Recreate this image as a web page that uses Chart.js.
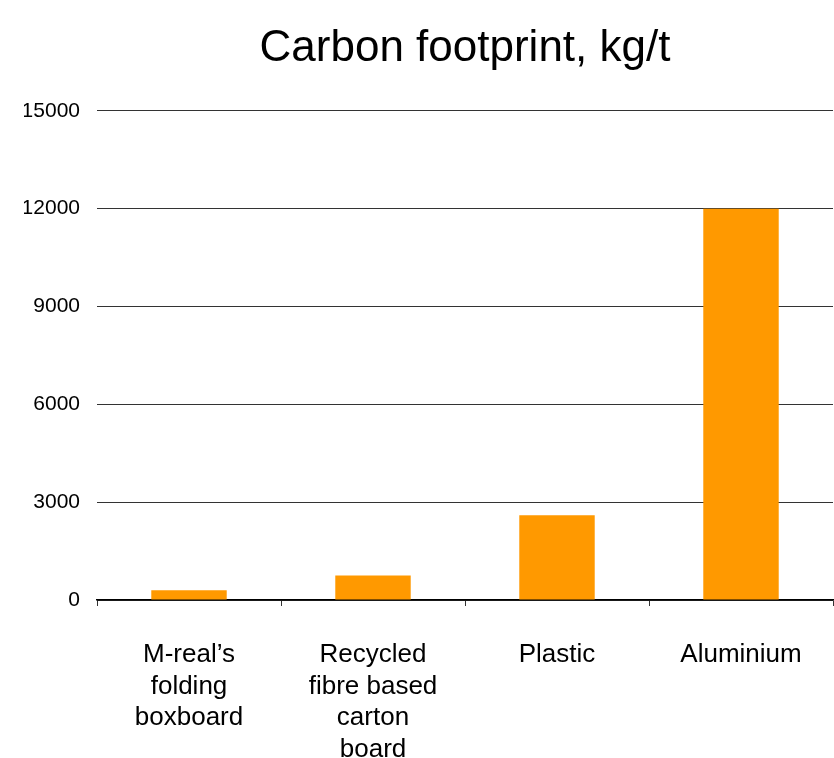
<!DOCTYPE html>
<html>
<head>
<meta charset="utf-8">
<script src="https://cdn.jsdelivr.net/npm/chart.js@4/dist/chart.umd.min.js"></script>
<style>
  html, body { margin: 0; padding: 0; background: #fff; }
  #wrap { width: 834px; height: 758px; }
</style>
</head>
<body>
<div id="wrap"><canvas id="chart"></canvas></div>
<script>
// Categories (multi-line labels) and values
const categories = [
    ["M-real\u2019s", "folding", "boxboard"],
    ["Recycled", "fibre based", "carton", "board"],
    "Plastic",
    "Aluminium"
];
const footprint = [300, 750, 2600, 12000];  // kg CO2 per tonne
const yMin = 0;
const yMax = 15000;
const yStep = 3000;

Chart.defaults.font.family = "'Liberation Sans', Arial, sans-serif";
Chart.defaults.color = '#000';

const ctx = document.getElementById('chart').getContext('2d');
new Chart(ctx, {
    type: 'bar',
    data: {
        labels: categories,
        datasets: [{
            label: 'Carbon footprint',
            data: footprint,
            backgroundColor: '#ff9900',
            borderWidth: 0,
            categoryPercentage: 1,
            barPercentage: 0.41
        }]
    },
    options: {
        responsive: true,
        maintainAspectRatio: false,
        animation: false,
        layout: { padding: { left: 24, right: 1, top: 0, bottom: 0 } },
        plugins: {
            legend: { display: false },
            tooltip: { enabled: false },
            title: {
                // title sits over the plot area only, as in the original
                display: true,
                fullSize: false,
                text: 'Carbon footprint, kg/t',
                font: { size: 44, weight: 'normal' },
                color: '#000',
                padding: { top: 22, bottom: 36 }
            }
        },
        scales: {
            x: {
                offset: true,
                grid: {
                    display: true,
                    offset: true,
                    drawOnChartArea: false,
                    drawTicks: true,
                    tickLength: 6,
                    color: '#333'
                },
                border: { display: true, color: '#000', width: 1.5 },
                ticks: {
                    font: { size: 26, lineHeight: 1.22 },
                    padding: 33,
                    maxRotation: 0,
                    autoSkip: false
                },
                afterFit: (scale) => {
                    scale.height = 158;
                    scale.paddingLeft = 0;
                    scale.paddingRight = 0;
                }
            },
            y: {
                min: yMin,
                max: yMax,
                grid: { color: '#333', drawTicks: false, lineWidth: 1 },
                border: { display: false },
                ticks: {
                    stepSize: yStep,
                    font: { size: 21 },
                    padding: 17,
                    callback: (v) => String(v)
                },
                afterFit: (scale) => { scale.width = 73; }
            }
        }
    }
});
</script>
</body>
</html>
